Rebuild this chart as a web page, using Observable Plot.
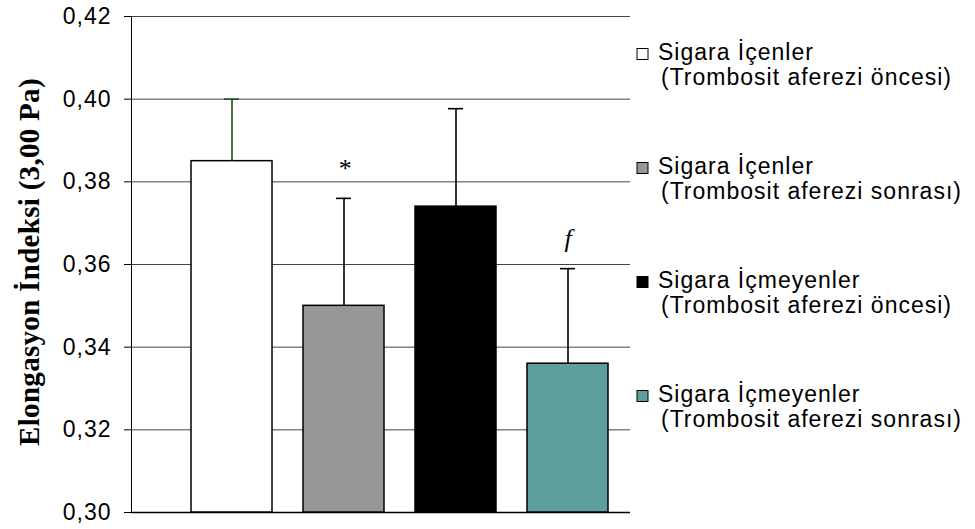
<!DOCTYPE html>
<html><head><meta charset="utf-8">
<script src="https://cdn.jsdelivr.net/npm/d3@7"></script>
<script src="https://cdn.jsdelivr.net/npm/@observablehq/plot@0.6"></script>
<style>body{margin:0;background:#fff;}</style>
</head><body><div id="chart"></div>
<script>
const legendLine1 = ["Sigara İçenler", "Sigara İçenler", "Sigara İçmeyenler", "Sigara İçmeyenler"];
const legendLine2 = ["(Trombosit aferezi öncesi)", "(Trombosit aferezi sonrası)", "(Trombosit aferezi öncesi)", "(Trombosit aferezi sonrası)"];
const categories = ["G1", "G2", "G3", "G4"];
const means = [0.385, 0.350, 0.374, 0.336];
const upper = [0.400, 0.376, 0.3977, 0.359];
const annotations = ["", "*", "", "f"];
const colors = ["#ffffff", "#969696", "#000000", "#5e9f9e"];
const errColors = ["#1e4d1e", "#000000", "#000000", "#000000"];
const yTicks = [0.30, 0.32, 0.34, 0.36, 0.38, 0.40, 0.42];
const yDomain = [0.30, 0.42];
const yTitle = "Elongasyon İndeksi (3,00 Pa)";

const data = categories.map((c, i) => ({cat: c, mean: means[i], up: upper[i], mark: annotations[i], err: errColors[i]}));

const svg = Plot.plot({
  width: 975, height: 529,
  marginLeft: 131, marginRight: 345, marginTop: 16, marginBottom: 17,
  style: {fontFamily: "'Liberation Sans', Arial, sans-serif", fontSize: "22px", color: "#000", background: "#fff", overflow: "visible"},
  x: {type: "band", domain: categories, range: [175, 623], paddingInner: 0.28, paddingOuter: 0.14, axis: null},
  y: {domain: yDomain, axis: null},
  color: {domain: categories, range: colors},
  marks: [
    Plot.ruleY(yTicks.slice(1), {stroke: "#444", strokeWidth: 1}),
    Plot.ruleY([yDomain[0]], {stroke: "#000", strokeWidth: 1.5}),
    Plot.frame({anchor: "left", stroke: "#000", strokeWidth: 1}),
    Plot.axisY({ticks: yTicks, tickSize: 7, tickPadding: 13, tickFormat: d => d.toFixed(2).replace(".", ","), label: null, fontSize: 23, stroke: "#000", ariaLabel: "yaxis"}),
    Plot.barY(data, {x: "cat", y1: yDomain[0], y2: "mean", fill: "cat", stroke: "#000", strokeWidth: 1.5}),
    ...data.map(d => Plot.ruleX([d], {x: "cat", y1: "mean", y2: "up", stroke: d.err, strokeWidth: 1.6})),
    ...data.map(d => Plot.tickY([d], {x: "cat", y: "up", insetLeft: 33, insetRight: 33, stroke: d.err, strokeWidth: 1.6})),
    Plot.text(data, {x: "cat", y: "up", text: "mark", dy: -30, fontSize: 26, fontFamily: "'Liberation Serif', 'Times New Roman', serif", fontStyle: "italic", fill: "#000"})
  ]
});

const s = d3.select(svg);
s.selectAll("g[aria-label='yaxis tick label'] text, g[aria-label='yaxis tick label']")
  .style("font-size", "23px").style("letter-spacing", "1px").attr("fill", "#000");

s.append("text")
  .attr("transform", "translate(29,262) rotate(-90)")
  .attr("text-anchor", "middle")
  .attr("dominant-baseline", "central")
  .style("font-family", "'Liberation Serif', 'Times New Roman', serif")
  .style("font-weight", "bold")
  .style("font-size", "29px")
  .style("letter-spacing", "0.3px")
  .attr("fill", "#000")
  .text(yTitle);

const legendTop = 59.5, legendStep = 114;
const lg = s.append("g")
  .attr("text-anchor", "start")
  .style("font-family", "'Liberation Sans', Arial, sans-serif")
  .style("font-size", "23px")
  .style("letter-spacing", "1px");
categories.forEach((c, i) => {
  const b = legendTop + i * legendStep;
  lg.append("rect").attr("x", 637).attr("y", b - 11).attr("width", 11).attr("height", 11)
    .attr("fill", colors[i]).attr("stroke", "#000").attr("stroke-width", 1);
  lg.append("text").attr("x", 658).attr("y", b).attr("text-anchor", "start").attr("fill", "#000").text(legendLine1[i]);
  lg.append("text").attr("x", 661).attr("y", b + 25).attr("text-anchor", "start").attr("fill", "#000").text(legendLine2[i]);
});

document.getElementById("chart").appendChild(svg);
</script>
</body></html>
